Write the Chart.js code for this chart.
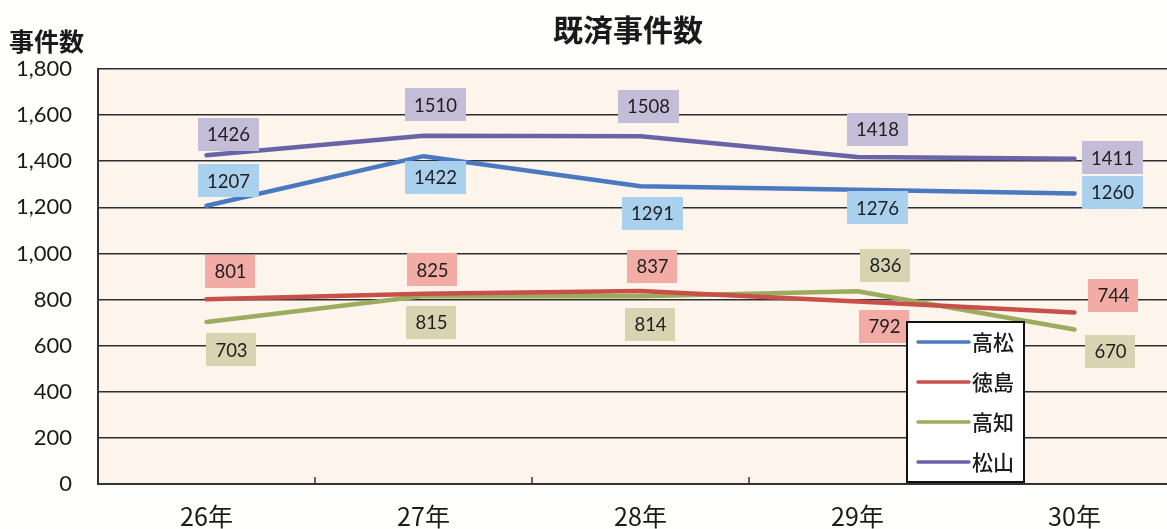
<!DOCTYPE html>
<html>
<head>
<meta charset="utf-8">
<script src="https://cdn.jsdelivr.net/npm/chart.js@4/dist/chart.umd.min.js"></script>
<style>
  html, body { margin: 0; padding: 0; background: #fefefd; overflow: hidden; }
  #wrap { width: 1190px; height: 529px; position: relative; }
</style>
</head>
<body>
<div id="wrap"><canvas id="c"></canvas></div>
<script>
// ---- data ----
const categories = ['26年', '27年', '28年', '29年', '30年'];
const seriesNames = ['高松', '徳島', '高知', '松山'];
const takamatsu = [1207, 1422, 1291, 1276, 1260];
const tokushima = [801, 825, 837, 792, 744];
const kochi = [703, 815, 814, 836, 670];
const matsuyama = [1426, 1510, 1508, 1418, 1411];
const yMin = 0, yMax = 1800, yStep = 200;
const chartTitle = '既済事件数';
const yAxisTitle = '事件数';

// label placement (pixel offset of label box from its point)
const takamatsuLabelOffsets = [[22, -25], [12, 21], [12, 27], [20, 18], [38, -1]];
const tokushimaLabelOffsets = [[24, -28], [9, -24], [12, -25], [27, 25], [39, -17]];
const kochiLabelOffsets = [[25, 28], [8, 26], [10, 28], [28, -26], [36, 22]];
const matsuyamaLabelOffsets = [[22, -21], [12, -31], [8, -30], [20, -28], [38, -1]];

const lineColors = ['#4a79c2', '#c8504a', '#9cac5e', '#6964a8'];
const boxColors = ['#a9d0ec', '#f2aca5', '#d8d4b2', '#c4bdd7'];

const numFont = '"Lato", "Open Sans", sans-serif';
const cjkFont = '"Noto Sans CJK JP", "Noto Sans", sans-serif';

const bgPlugin = {
  id: 'bg',
  beforeDraw(chart) {
    const { ctx, chartArea: a } = chart;
    ctx.save();
    ctx.fillStyle = '#fdf5ec';
    ctx.fillRect(a.left, a.top, a.right - a.left, a.bottom - a.top);
    ctx.restore();
  },
  afterDraw(chart) {
    const { ctx, chartArea: a } = chart;
    ctx.save();
    // titles
    ctx.fillStyle = '#1a1a1a';
    ctx.textAlign = 'center';
    ctx.textBaseline = 'middle';
    ctx.font = 'bold 30px ' + cjkFont;
    ctx.fillText(chartTitle, 628, 30);
    ctx.textAlign = 'left';
    ctx.font = 'bold 25px ' + cjkFont;
    ctx.fillText(yAxisTitle, 9, 41);
    // x tick marks inside the plot at category boundaries
    const xs = chart.scales.x;
    ctx.strokeStyle = '#333';
    ctx.lineWidth = 1.5;
    for (let i = 0; i < categories.length - 1; i++) {
      const bx = (xs.getPixelForValue(i) + xs.getPixelForValue(i + 1)) / 2;
      ctx.beginPath();
      ctx.moveTo(bx, a.bottom);
      ctx.lineTo(bx, a.bottom - 7);
      ctx.stroke();
    }
    ctx.restore();
  }
};

const labelPlugin = {
  id: 'boxLabels',
  afterDatasetsDraw(chart) {
    const { ctx } = chart;
    ctx.save();
    ctx.font = '18.5px ' + numFont;
    ctx.textAlign = 'center';
    ctx.textBaseline = 'middle';
    chart.data.datasets.forEach((ds, di) => {
      const meta = chart.getDatasetMeta(di);
      meta.data.forEach((pt, i) => {
        const [dx, dy] = ds.labelOffsets[i];
        const text = String(ds.data[i]);
        const cx = pt.x + dx, cy = pt.y + dy;
        const w = ctx.measureText(text).width + 18;
        const h = 33;
        ctx.fillStyle = ds.boxColor;
        ctx.fillRect(Math.round(cx - w / 2), Math.round(cy - h / 2), Math.round(w), h);
        ctx.fillStyle = '#1e1e1e';
        ctx.fillText(text, cx, cy + 1);
      });
    });
    ctx.restore();
  }
};

const legendPlugin = {
  id: 'boxLegend',
  afterDraw(chart) {
    const { ctx } = chart;
    const x0 = 907, y0 = 322, w = 117, h = 160;
    ctx.save();
    ctx.fillStyle = '#ffffff';
    ctx.fillRect(x0, y0, w, h);
    ctx.strokeStyle = '#111';
    ctx.lineWidth = 2;
    ctx.strokeRect(x0, y0, w, h);
    ctx.font = '500 21px ' + cjkFont;
    ctx.textAlign = 'left';
    ctx.textBaseline = 'middle';
    chart.data.datasets.forEach((ds, i) => {
      const y = y0 + 20 + i * 40;
      ctx.strokeStyle = ds.borderColor;
      ctx.lineWidth = 3.5;
      ctx.lineCap = 'round';
      ctx.beginPath();
      ctx.moveTo(x0 + 11, y);
      ctx.lineTo(x0 + 62, y);
      ctx.stroke();
      ctx.fillStyle = '#1a1a1a';
      ctx.fillText(ds.label, x0 + 65, y);
    });
    ctx.restore();
  }
};

const seriesData = [takamatsu, tokushima, kochi, matsuyama];
const seriesOffsets = [takamatsuLabelOffsets, tokushimaLabelOffsets, kochiLabelOffsets, matsuyamaLabelOffsets];

new Chart(document.getElementById('c'), {
  type: 'line',
  data: {
    labels: categories,
    datasets: seriesNames.map((name, i) => ({
      label: name,
      data: seriesData[i],
      borderColor: lineColors[i],
      backgroundColor: lineColors[i],
      borderWidth: 4.5,
      borderCapStyle: 'round',
      borderJoinStyle: 'round',
      pointRadius: 0,
      tension: 0,
      boxColor: boxColors[i],
      labelOffsets: seriesOffsets[i]
    }))
  },
  options: {
    responsive: true,
    maintainAspectRatio: false,
    animation: false,
    layout: { padding: { top: 69, right: 7, left: 0, bottom: 0 } },
    plugins: {
      legend: { display: false },
      title: { display: false },
      tooltip: { enabled: false }
    },
    scales: {
      x: {
        offset: true,
        grid: { display: false, drawTicks: false },
        border: { display: true, color: '#333', width: 2 },
        ticks: {
          padding: 17,
          color: '#1a1a1a',
          font: { family: cjkFont, size: 25 }
        },
        afterFit(s) { s.height = 45; }
      },
      y: {
        min: yMin,
        max: yMax,
        ticks: {
          stepSize: yStep,
          padding: 26,
          color: '#1a1a1a',
          font: { family: numFont, size: 22 },
          callback: v => v.toLocaleString('en-US')
        },
        grid: { color: '#2e2e2e', lineWidth: 1.6, drawTicks: false },
        border: { display: true, color: '#333', width: 2 },
        afterFit(s) { s.width = 98; }
      }
    }
  },
  plugins: [bgPlugin, labelPlugin, legendPlugin]
});
</script>
</body>
</html>
